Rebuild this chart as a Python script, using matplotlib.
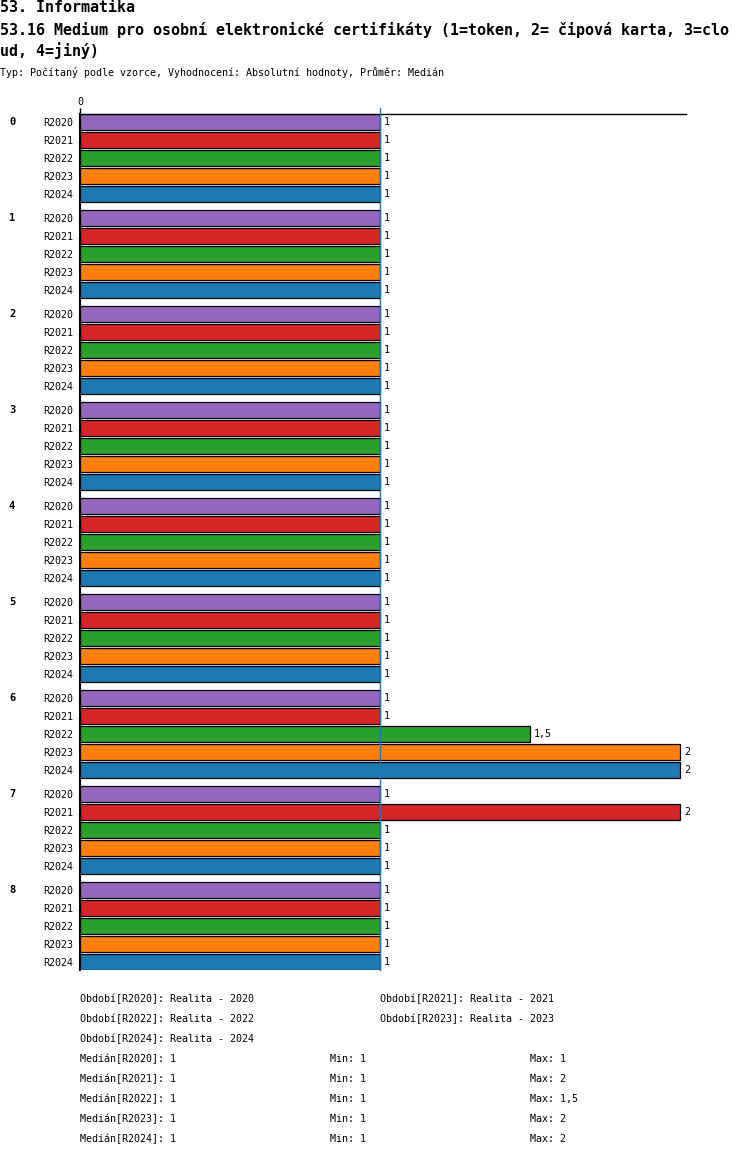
import numpy as np
import matplotlib
matplotlib.use('Agg')
import matplotlib.pyplot as plt
import matplotlib.transforms as mtransforms

# ====================== DATA ======================
TITLE_1 = "53. Informatika"
TITLE_2 = ("53.16 Medium pro osobní elektronické certifikáty "
           "(1=token, 2= čipová karta, 3=cloud, 4=jiný)")
SUBTITLE = "Typ: Počítaný podle vzorce, Vyhodnocení: Absolutní hodnoty, Průměr: Medián"

groups = ["0", "1", "2", "3", "4", "5", "6", "7", "8"]
periods = ["R2020", "R2021", "R2022", "R2023", "R2024"]
period_desc = ["Realita - 2020", "Realita - 2021", "Realita - 2022",
               "Realita - 2023", "Realita - 2024"]
colors = ["#9467bd", "#d62728", "#2ca02c", "#ff7f0e", "#1f77b4"]

r2020 = [1, 1, 1, 1, 1, 1, 1, 1, 1]
r2021 = [1, 1, 1, 1, 1, 1, 1, 2, 1]
r2022 = [1, 1, 1, 1, 1, 1, 1.5, 1, 1]
r2023 = [1, 1, 1, 1, 1, 1, 2, 1, 1]
r2024 = [1, 1, 1, 1, 1, 1, 2, 1, 1]
series = [r2020, r2021, r2022, r2023, r2024]
# ===================================================

W, H = 750, 1158
DPI = 100


def fx(x):
    return x / W


def fy(y):
    return 1 - y / H


def fmt(v):
    s = f"{v:g}"
    return s.replace(".", ",")


MONO = "DejaVu Sans Mono"

fig = plt.figure(figsize=(W / DPI, H / DPI), dpi=DPI)

# header
fig.text(fx(0), fy(8), TITLE_1, family=MONO, fontsize=10.8, fontweight='bold',
         va='center', ha='left')
wrap = 81
title_lines = [TITLE_2[i:i + wrap] for i in range(0, len(TITLE_2), wrap)]
for i, line in enumerate(title_lines):
    fig.text(fx(0), fy(30 + i * 21), line, family=MONO, fontsize=10.8,
             fontweight='bold', va='center', ha='left')
fig.text(fx(0), fy(73), SUBTITLE, family=MONO, fontsize=7.2, va='center', ha='left')

# bar positions in slot units (one slot = one bar row)
n_per = len(periods)
gap = 1 / 3
slot_px = 18
ax_top, ax_bot = 114, 970
ax = fig.add_axes([fx(80), fy(ax_bot), (686 - 80) / W, (ax_bot - ax_top) / H])

positions = []
labels = []
for g in range(len(groups)):
    for k in range(n_per):
        positions.append(g * (n_per + gap) + k)
        labels.append(periods[k])
positions = np.array(positions)

bar_h = 16 / slot_px
for k in range(n_per):
    ypos = positions[k::n_per]
    ax.barh(ypos, series[k], height=bar_h, color=colors[k],
            edgecolor='black', linewidth=0.9, zorder=2)
    for y, v in zip(ypos, series[k]):
        ax.annotate(fmt(v), (v, y), xytext=(3, 0), textcoords='offset points',
                    va='center', ha='left', family=MONO, fontsize=7.2)

ax.set_xlim(0, 2.02)
ax.set_ylim(positions[-1] + 8 / slot_px, -8 / slot_px)

# median line
ax.axvline(1, ymin=0, ymax=1.007, color='#1f77b4', linewidth=1, zorder=3, clip_on=False)

for side in ['right', 'bottom']:
    ax.spines[side].set_visible(False)
ax.spines['top'].set_linewidth(1.0)
ax.spines['left'].set_linewidth(1.5)

ax.xaxis.tick_top()
ax.set_xticks([0])
ax.set_xticklabels(['0'], family=MONO, fontsize=7.2)
ax.tick_params(axis='x', length=4, width=1, pad=1)

ax.set_yticks(positions)
ax.set_yticklabels(labels, family=MONO, fontsize=7.2)
ax.tick_params(axis='y', length=0, pad=5)

# group labels
trans = mtransforms.blended_transform_factory(fig.transFigure, ax.transData)
for g, name in enumerate(groups):
    ax.text(fx(12), positions[g * n_per], name, transform=trans, family=MONO,
            fontsize=7.5, fontweight='bold', va='center', ha='center')

# legend / stats footer
for i, (p, d) in enumerate(zip(periods, period_desc)):
    row, col = divmod(i, 2)
    fig.text(fx(80 + col * 300), fy(999 + row * 20), f"Období[{p}]: {d}",
             family=MONO, fontsize=7.2, va='center', ha='left')

for i, (p, vals) in enumerate(zip(periods, series)):
    y = fy(1059 + i * 20)
    fig.text(fx(80), y, f"Medián[{p}]: {fmt(np.median(vals))}",
             family=MONO, fontsize=7.2, va='center', ha='left')
    fig.text(fx(330), y, f"Min: {fmt(min(vals))}",
             family=MONO, fontsize=7.2, va='center', ha='left')
    fig.text(fx(530), y, f"Max: {fmt(max(vals))}",
             family=MONO, fontsize=7.2, va='center', ha='left')

fig.savefig("out.png", dpi=DPI)
